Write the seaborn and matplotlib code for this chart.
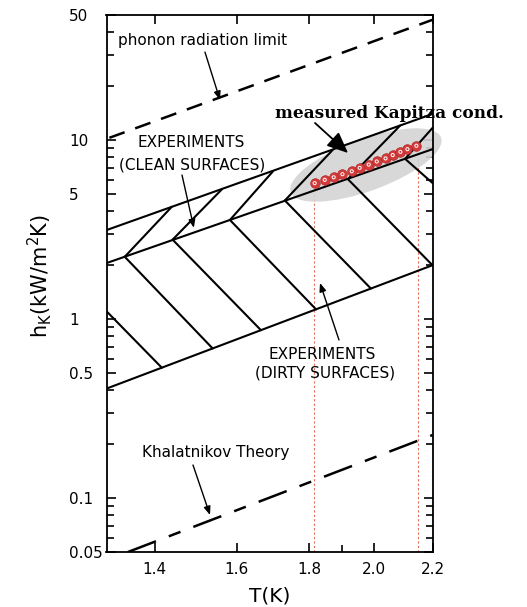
import numpy as np
import pandas as pd
import matplotlib
matplotlib.use('Agg')
import matplotlib.pyplot as plt
import matplotlib.ticker as mticker
import matplotlib.transforms as mtransforms
from matplotlib.patches import Ellipse
import seaborn as sns

# ---------------- data ----------------
t_lim = [1.294, 2.2]
h_lim = [0.05, 50]

phonon_T = [1.30, 2.20]
phonon_h = [10.3, 47.0]

khal_T = [1.34, 2.20]
khal_h = [0.05, 0.225]

clean_upper_T = [1.295, 2.20]
clean_upper_h = [3.15, 14.0]
clean_lower_T = [1.295, 2.20]
clean_lower_h = [2.06, 8.9]
dirty_lower_T = [1.295, 2.20]
dirty_lower_h = [0.41, 2.0]

# zigzag vertices on the lower clean boundary
vertex_T = [1.333, 1.441, 1.582, 1.730, 1.917, 2.104]
vertex_h = [2.23, 2.78, 3.58, 4.60, 6.05, 7.86]
# up-right hatch ends (clean band)
clean_end_T = [1.439, 1.561, 1.697, 1.871, 2.087, 2.20]
clean_end_h = [4.24, 5.30, 6.70, 8.85, 12.05, 11.7]
# down-right hatch ends (dirty band)
dirty_end_T = [1.538, 1.664, 1.820, 1.990, 2.20, 2.20]
dirty_end_h = [0.686, 0.867, 1.134, 1.482, 2.0, 5.76]
# first dirty hatch, starting at the left axis
dirty_first_T = [1.295, 1.416]
dirty_first_h = [1.10, 0.535]

# measured Kapitza conductance
kap_T = [1.816, 1.846, 1.873, 1.900, 1.929, 1.954, 1.983, 2.009, 2.038,
         2.062, 2.088, 2.112, 2.143]
kap_h = [5.75, 6.0, 6.2, 6.45, 6.7, 7.0, 7.3, 7.6, 7.9, 8.25, 8.6, 8.9, 9.3]
t_bounds = [1.814, 2.149]
highlight_T, highlight_h = 1.974, 7.26

x_ticks = [1.4, 1.6, 1.8, 2.0, 2.2]
x_ticklabels = ['1.4', '1.6', '1.8', '2.0', '2.2']
x_minor = [1.9]
y_ticks = [0.05, 0.1, 0.5, 1, 5, 10, 50]
y_ticklabels = ['0.05', '0.1', '0.5', '1', '5', '10', '50']

# ---------------- build segment table ----------------
rows = []
def add(seg, Ts, hs):
    for t, h in zip(Ts, hs):
        rows.append({'seg': seg, 'T': t, 'h': h})

add('cu', clean_upper_T, clean_upper_h)
add('cl', clean_lower_T, clean_lower_h)
add('dl', dirty_lower_T, dirty_lower_h)
add('d0', dirty_first_T, dirty_first_h)
for i in range(len(vertex_T)):
    add(f'c{i}', [vertex_T[i], clean_end_T[i]], [vertex_h[i], clean_end_h[i]])
    add(f'd{i+1}', [vertex_T[i], dirty_end_T[i]], [vertex_h[i], dirty_end_h[i]])
solid = pd.DataFrame(rows)

# ---------------- figure ----------------
sns.set_style('ticks')
plt.rcParams['font.family'] = ['DejaVu Sans']
plt.rcParams['axes.linewidth'] = 1.3
for k in ['text.color', 'axes.labelcolor', 'xtick.color', 'ytick.color', 'axes.edgecolor']:
    plt.rcParams[k] = 'black'

fig = plt.figure(figsize=(5.27, 6.07), dpi=100)
ax = fig.add_axes([106.5 / 527, 1 - 552 / 607, 326 / 527, 537 / 607])
ax.set_xscale('log')
ax.set_yscale('log')
ax.set_xlim(t_lim)
ax.set_ylim(h_lim)

sns.lineplot(data=solid, x='T', y='h', units='seg', estimator=None, sort=False,
             color='black', lw=1.5, ax=ax, zorder=2)
sns.lineplot(x=phonon_T, y=phonon_h, color='black', lw=1.8, ax=ax,
             linestyle=(0, (6.5, 4.5)), zorder=2)
sns.lineplot(x=khal_T, y=khal_h, color='black', lw=1.8, ax=ax,
             linestyle=(0, (12, 5.5, 5, 5.5)), zorder=2)

# red dotted temperature bounds
for tb, ht in zip(t_bounds, [kap_h[0], kap_h[-1]]):
    ax.plot([tb, tb], [h_lim[0], ht], color='#e07058', lw=0.8,
            linestyle=(0, (2, 2)), zorder=1)

# grey highlight ellipse
trans = fig.dpi_scale_trans + mtransforms.ScaledTranslation(highlight_T, highlight_h, ax.transData)
ell = Ellipse((0, 0), width=1.6, height=0.52, angle=20, transform=trans,
              facecolor='#d4d4d4', edgecolor='none', alpha=0.9, zorder=1.5, clip_on=False)
ax.add_patch(ell)

# measured points
sns.scatterplot(x=kap_T, y=kap_h, ax=ax, s=48, color='#d33b3b', edgecolor='#b02828',
                linewidth=0.5, zorder=4, clip_on=False)
ax.scatter(kap_T, kap_h, s=5, facecolors='none', edgecolors='white', linewidths=0.7, zorder=5)

# ---------------- ticks ----------------
ax.xaxis.set_major_locator(mticker.FixedLocator(x_ticks))
ax.xaxis.set_major_formatter(mticker.FixedFormatter(x_ticklabels))
ax.xaxis.set_minor_locator(mticker.FixedLocator(x_minor))
ax.xaxis.set_minor_formatter(mticker.NullFormatter())
ax.yaxis.set_major_locator(mticker.FixedLocator(y_ticks))
ax.yaxis.set_major_formatter(mticker.FixedFormatter(y_ticklabels))
ax.yaxis.set_minor_locator(mticker.LogLocator(base=10, subs=[2, 3, 4, 6, 7, 8, 9], numticks=20))
ax.yaxis.set_minor_formatter(mticker.NullFormatter())
ax.tick_params(which='both', direction='in', top=True, right=True, width=1.2,
               labelsize=11, colors='black')
ax.tick_params(which='major', length=6.5)
ax.tick_params(which='minor', length=5)
ax.tick_params(axis='x', which='minor', top=False)
ax.tick_params(axis='y', pad=27)
ax.tick_params(axis='x', pad=7)
for lab in ax.get_yticklabels():
    lab.set_horizontalalignment('left')
ax.set_xlabel('')
ax.set_ylabel('')

# axis labels
fig.text(270 / 527, 1 - 596 / 607, 'T(K)', ha='center', va='center', fontsize=14.5)
fig.text(40 / 527, 1 - 276 / 607, r'h$_\mathregular{K}$(kW/m$^\mathregular{2}$K)',
         rotation=90, ha='center', va='center', fontsize=15)

# ---------------- annotations ----------------
small = dict(arrowstyle='-|>,head_length=0.5,head_width=0.2', color='black', lw=1.0,
             mutation_scale=10, shrinkA=0, shrinkB=0)
A = ax.transAxes
ax.text(0.035, 0.9516, 'phonon radiation limit', transform=A, fontsize=11, ha='left', va='center')
ax.annotate('', xy=(0.348, 0.842), xytext=(0.302, 0.931), xycoords='axes fraction', arrowprops=small)

ax.text(0.259, 0.7635, 'EXPERIMENTS', transform=A, fontsize=11, ha='center', va='center')
ax.text(0.264, 0.7207, '(CLEAN SURFACES)', transform=A, fontsize=11, ha='center', va='center')
ax.annotate('', xy=(0.268, 0.6037), xytext=(0.2316, 0.702), xycoords='axes fraction', arrowprops=small)

ax.text(0.661, 0.3669, 'EXPERIMENTS', transform=A, fontsize=11, ha='center', va='center')
ax.text(0.6718, 0.3333, '(DIRTY SURFACES)', transform=A, fontsize=11, ha='center', va='center')
ax.annotate('', xy=(0.6549, 0.5009), xytext=(0.7132, 0.3948), xycoords='axes fraction', arrowprops=small)

ax.text(0.1089, 0.1844, 'Khalatnikov Theory', transform=A, fontsize=11, ha='left', va='center')
ax.annotate('', xy=(0.3175, 0.0689), xytext=(0.2653, 0.162), xycoords='axes fraction', arrowprops=small)

ax.text(0.517, 0.8175, 'measured Kapitza cond.', transform=A, family='DejaVu Serif',
        weight='bold', fontsize=12.2, ha='left', va='center', clip_on=False, zorder=6)
ax.annotate('', xy=(0.7408, 0.743), xytext=(0.6396, 0.7989), xycoords='axes fraction',
            arrowprops=dict(arrowstyle='-|>,head_length=0.8,head_width=0.35', color='black',
                            lw=1.3, mutation_scale=16, shrinkA=0, shrinkB=0), zorder=6)

fig.savefig('out.png', dpi=100)
